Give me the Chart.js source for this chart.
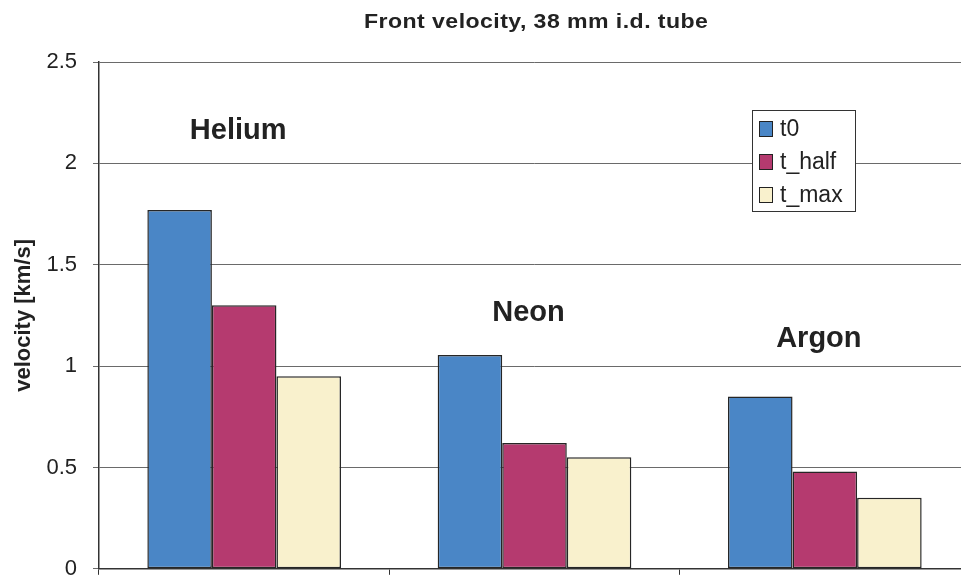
<!DOCTYPE html>
<html>
<head>
<meta charset="utf-8">
<script src="https://cdn.jsdelivr.net/npm/chart.js@4/dist/chart.umd.min.js"></script>
<style>
  html, body { margin: 0; padding: 0; background: #fff; overflow: hidden; }
  #wrap { position: relative; width: 972px; height: 598px; }
</style>
</head>
<body>
<div id="wrap"><canvas id="chart"></canvas></div>
<script>
// chart data
const gases = ['Helium', 'Neon', 'Argon'];
const t0 = [1.77, 1.055, 0.85];
const tHalf = [1.30, 0.62, 0.48];
const tMax = [0.95, 0.55, 0.35];
const seriesNames = ['t0', 't_half', 't_max'];
const seriesColors = ['#4a86c6', '#b53a6f', '#f9f1cd'];
// where the gas names sit (y in km/s)
const gasLabelY = [2.12, 1.22, 1.095];

const FONT = '"Liberation Sans", Arial, Helvetica, sans-serif';
const INK = '#222';

// title, gas names and boxed legend drawn on top of the plot
const overlay = {
    id: 'overlay',
    afterDraw(chart) {
        const ctx = chart.ctx;
        const x = chart.scales.x, y = chart.scales.y;
        ctx.save();
        ctx.fillStyle = INK;

        // the original title is a little wider than plain bold Arial
        ctx.save();
        ctx.font = 'bold 21px ' + FONT;
        ctx.letterSpacing = '0.4px';
        ctx.textAlign = 'left';
        ctx.textBaseline = 'alphabetic';
        ctx.translate(364, 28);
        ctx.scale(1.1, 1);
        ctx.fillText('Front velocity, 38 mm i.d. tube', 0, 0);
        ctx.restore();

        ctx.textAlign = 'center';
        ctx.textBaseline = 'alphabetic';
        ctx.font = 'bold 29px ' + FONT;
        gases.forEach((g, i) => {
            ctx.fillText(g, x.getPixelForValue(i) - 6, y.getPixelForValue(gasLabelY[i]));
        });

        // legend box
        const lx = 752, ly = 110, lw = 103, lh = 101;
        ctx.fillStyle = '#fff';
        ctx.fillRect(lx, ly, lw, lh);
        ctx.strokeStyle = '#333';
        ctx.lineWidth = 1;
        ctx.strokeRect(lx + 0.5, ly + 0.5, lw, lh);
        ctx.font = '23px ' + FONT;
        ctx.textAlign = 'left';
        ctx.textBaseline = 'middle';
        seriesNames.forEach((name, i) => {
            const cy = ly + 19 + i * 33;
            ctx.fillStyle = seriesColors[i];
            ctx.fillRect(759, cy - 8, 14, 16);
            ctx.strokeStyle = '#222';
            ctx.strokeRect(759.5, cy - 7.5, 13, 15);
            ctx.fillStyle = INK;
            ctx.fillText(name, 780, cy + 1);
        });
        ctx.restore();
    }
};

new Chart(document.getElementById('chart'), {
    type: 'bar',
    data: {
        labels: gases,
        datasets: [t0, tHalf, tMax].map((vals, i) => ({
            label: seriesNames[i],
            data: vals,
            backgroundColor: seriesColors[i],
            borderColor: '#262626',
            borderWidth: 1.5,
            borderSkipped: false,
            barPercentage: 1,
            categoryPercentage: 0.667
        }))
    },
    options: {
        responsive: true,
        maintainAspectRatio: false,
        animation: false,
        layout: { padding: { top: 62, right: 2, left: 0, bottom: 0 } },
        plugins: {
            legend: { display: false },
            tooltip: { enabled: false }
        },
        scales: {
            x: {
                afterFit: s => { s.height = 15; },
                ticks: { display: false },
                grid: {
                    drawOnChartArea: false,
                    drawTicks: true,
                    tickLength: 6,
                    color: '#333',
                    offset: true
                },
                border: { color: '#333', width: 1.5 }
            },
            y: {
                min: 0,
                max: 2.5,
                afterFit: s => { s.width = 99; },
                ticks: {
                    stepSize: 0.5,
                    padding: 16,
                    color: INK,
                    font: { family: FONT, size: 22 },
                    callback: v => String(v)
                },
                grid: { color: '#6a6a6a', lineWidth: 1, tickLength: 6 },
                border: { color: '#333', width: 1.5 },
                title: {
                    display: true,
                    text: 'velocity [km/s]',
                    color: INK,
                    font: { family: FONT, size: 22, weight: 'bold' },
                    padding: { top: 11, bottom: 0 }
                }
            }
        }
    },
    plugins: [overlay]
});
</script>
</body>
</html>
